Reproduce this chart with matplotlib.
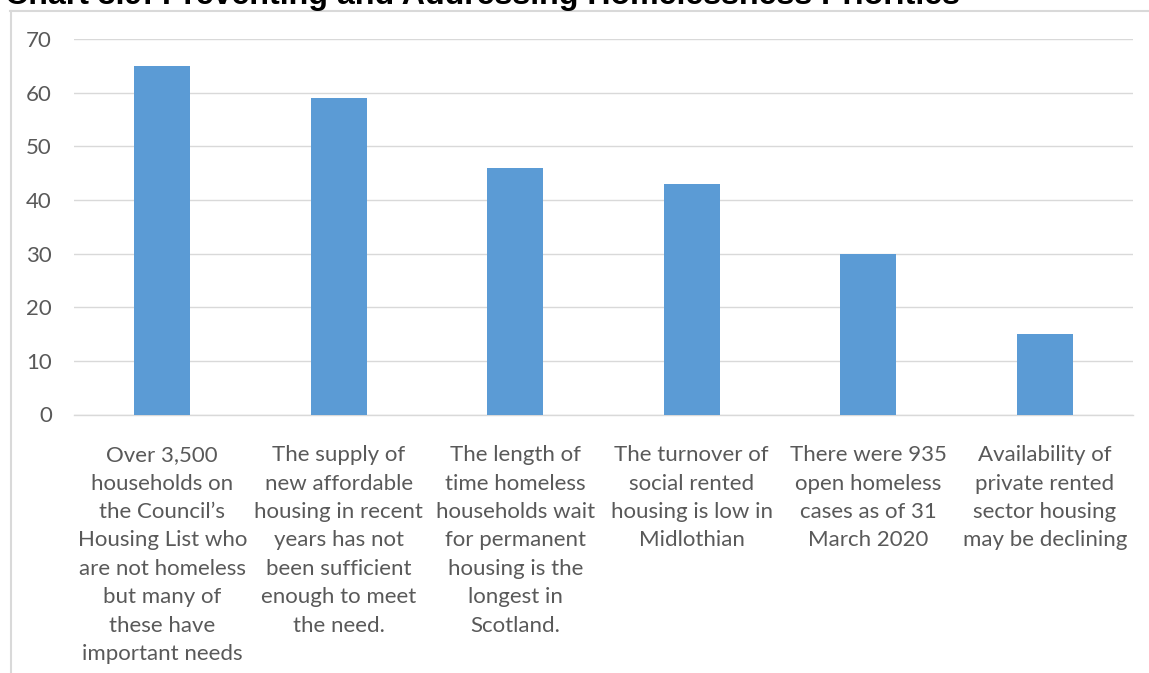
import matplotlib
matplotlib.use("Agg")
import matplotlib.pyplot as plt
from matplotlib.lines import Line2D

categories = [
    "Over 3,500\nhouseholds on\nthe Council\u2019s\nHousing List who\nare not homeless\nbut many of\nthese have\nimportant needs",
    "The supply of\nnew affordable\nhousing in recent\nyears has not\nbeen sufficient\nenough to meet\nthe need.",
    "The length of\ntime homeless\nhouseholds wait\nfor permanent\nhousing is the\nlongest in\nScotland.",
    "The turnover of\nsocial rented\nhousing is low in\nMidlothian",
    "There were 935\nopen homeless\ncases as of 31\nMarch 2020",
    "Availability of\nprivate rented\nsector housing\nmay be declining",
]
values = [65, 59, 46, 43, 30, 15]
y_ticks = [0, 10, 20, 30, 40, 50, 60, 70]
title = "Chart 3.9: Preventing and Addressing Homelessness Priorities"

W, H = 1149, 673
fig = plt.figure(figsize=(W / 100, H / 100), dpi=100)
fig.patch.set_facecolor("white")

ax = fig.add_axes([74 / W, 1 - 414.5 / H, (1133 - 74) / W, (414.5 - 39) / H])

x = list(range(len(values)))
ax.bar(x, values, width=0.316, color="#5b9bd5", zorder=3)

ax.set_xlim(-0.5, len(values) - 0.5)
ax.set_ylim(0, 70)
ax.set_yticks(y_ticks)
ax.set_yticklabels([str(t) for t in y_ticks])
ax.set_xticks(x)
ax.set_xticklabels(categories, linespacing=1.53)

ax.grid(axis="y", color="#d9d9d9", linewidth=1.0, zorder=0)
for side in ("top", "right", "left"):
    ax.spines[side].set_visible(False)
ax.spines["bottom"].set_color("#d9d9d9")
ax.spines["bottom"].set_linewidth(1.0)

label_font = dict(family=["Lato", "DejaVu Sans"], size=16, color="#595959")
for lab in ax.get_yticklabels():
    lab.set(**label_font)
for lab in ax.get_xticklabels():
    lab.set(**label_font)
ax.tick_params(axis="y", length=0, pad=16)
ax.tick_params(axis="x", length=0, pad=22)

# Chart frame: top and left edges
fig.add_artist(Line2D([10 / W, 1.0], [1 - 10.5 / H, 1 - 10.5 / H],
                      transform=fig.transFigure, color="#d9d9d9", linewidth=1.5))
fig.add_artist(Line2D([10.5 / W, 10.5 / W], [0.0, 1 - 10.5 / H],
                      transform=fig.transFigure, color="#d9d9d9", linewidth=1.5))

fig.text(5 / W, 1 - 4 / H, title, ha="left", va="baseline",
         family=["Liberation Sans", "DejaVu Sans"], weight="bold", size=23.1,
         color="black")

fig.savefig("out.png", dpi=100, facecolor="white")
